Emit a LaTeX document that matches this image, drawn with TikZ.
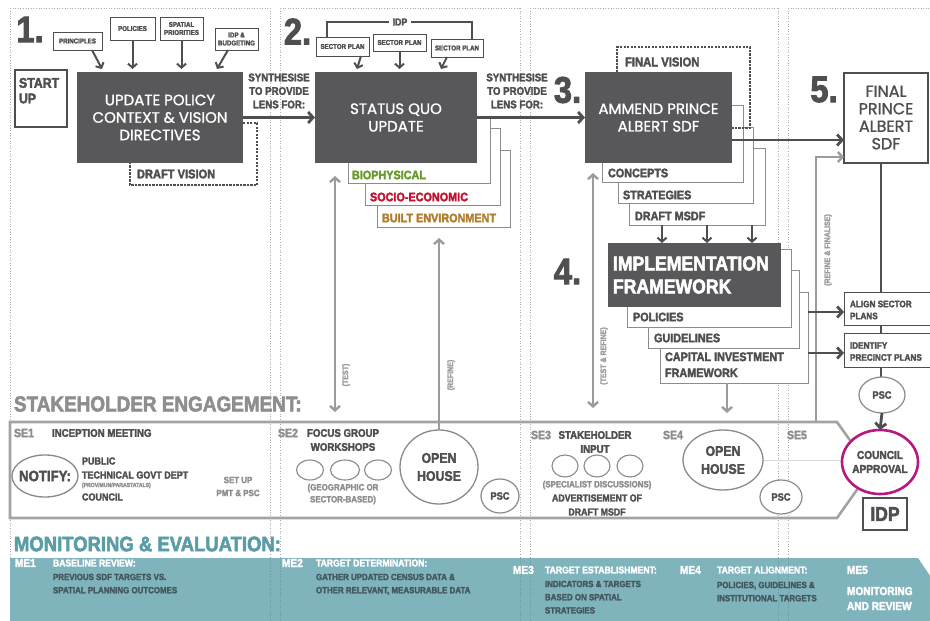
\documentclass[tikz,border=0pt]{standalone}
\usepackage{fontspec}
\setmainfont{Liberation Sans}
\newfontfamily\cf{Liberation Sans Bold}[FakeStretch=0.88, FakeBold=2.5]
\newfontfamily\fut{Poppins}[FakeBold=1.2]
\usetikzlibrary{arrows.meta,shapes.geometric}
\newcommand{\cbf}[2]{\cf\fontsize{#1}{#2}\selectfont}
\definecolor{dk}{HTML}{4F4F51}
\definecolor{boxc}{HTML}{58585A}
\definecolor{lg}{HTML}{9C9C9C}
\definecolor{segc}{HTML}{8E8E8E}
\definecolor{ellc}{HTML}{8A8A8A}
\definecolor{seb}{HTML}{A3A3A3}
\definecolor{teal1}{HTML}{80B4BD}
\definecolor{tealdk}{HTML}{6A9AA3}
\definecolor{tealtxt}{HTML}{5A9DA7}
\definecolor{metxt}{HTML}{44575D}
\definecolor{bio}{HTML}{6A9A2C}
\definecolor{soc}{HTML}{C41230}
\definecolor{blt}{HTML}{B07E2A}
\definecolor{mag}{HTML}{B8177F}
\begin{document}
\begin{tikzpicture}[x=1pt,y=-1pt,
  every node/.style={inner sep=0pt, outer sep=0pt},
  sep/.style={draw=black!32, line width=0.9pt, dash pattern=on 0.9pt off 1.7pt},
  num/.style={font={\cbf{37}{37}}, text=dk},
  sbox/.style={draw=dk, line width=1pt, fill=white, text=dk, font={\cbf{7}{8}}, align=center},
  dbox/.style={fill=boxc, text=white, font={\fut\fontsize{15}{17.5}\selectfont}, align=center},
  frm/.style={draw=black!45, line width=0.9pt, fill=white},
  arr/.style={draw=dk, line width=2.8pt, -{Straight Barb[length=5pt,width=11pt]}},
  sarr/.style={draw=dk, line width=2pt, -{Straight Barb[length=4pt,width=9pt]}},
  garr/.style={draw=lg, line width=2.4pt, -{Straight Barb[length=4.5pt,width=10pt]}},
  garrb/.style={draw=lg, line width=2.4pt, {Straight Barb[length=4.5pt,width=10pt]}-{Straight Barb[length=4.5pt,width=10pt]}},
  dotfr/.style={draw=dk, line width=2.6pt, dash pattern=on 2.2pt off 1.3pt},
  syn/.style={font={\cbf{11}{13.5}}, text=dk, align=center},
  lbl/.style={font={\cbf{12.3}{14}}, anchor=west},
  rot/.style={rotate=90, font={\cbf{8}{9}}, text=lg},
  seg/.style={font={\cbf{12}{14}}, text=segc, anchor=west},
  sed/.style={font={\cbf{11}{14}}, text=dk, align=center},
  oval/.style={ellipse, draw=ellc, line width=1.2pt, fill=white},
  mel/.style={font={\cbf{11.5}{12}}, text=white, anchor=west},
  meh/.style={font={\cbf{9.8}{10}}, text=white, anchor=west},
  meb/.style={font={\cbf{9}{13.2}}, text=metxt, anchor=north west, align=left}
]
\useasboundingbox (0,0) rectangle (930,621);
\fill[white] (0,0) rectangle (930,621);

% section separators
\foreach \x in {10,270,280,520,530,778,788} \draw[sep] (\x,8) -- (\x,558);
\foreach \a/\b in {10/270,280/520,530/778,788/930} \draw[sep] (\a,8) -- (\b,8);

% monitoring band
\fill[teal1] (10,558) -- (918,558) -- (945,598) -- (918,638) -- (10,638) -- cycle;
\foreach \x in {270,280,520,530,778,788} \draw[sep, draw=tealdk] (\x,558) -- (\x,621);

% ---------- section 1
\node[num] (n1) at (30,29.5) {1.};
\node[sbox, minimum width=49pt, minimum height=18pt] (princ) at (77.5,41) {PRINCIPLES};
\node[sbox, minimum width=45pt, minimum height=23pt] (pol) at (132.5,28.5) {POLICIES};
\node[sbox, minimum width=43pt, minimum height=23pt] (spat) at (181.5,28.5) {SPATIAL\\PRIORITIES};
\node[sbox, minimum width=43pt, minimum height=22pt] (idpb) at (236.5,39) {IDP \&\\BUDGETING};
\node[draw=dk, line width=1.2pt, minimum width=52pt, minimum height=57pt] (start) at (41,98.5) {};
\node[font={\cbf{14}{15.5}}, text=dk, align=left, anchor=north west] (starttxt) at (19,78) {START\\UP};
\draw[dotfr] (243,123) -- (257,123) -- (257,185) -- (130,185) -- (130,163);
\node[dbox, minimum width=166pt, minimum height=91pt] (upd) at (160,117.5) {UPDATE POLICY\\CONTEXT \& VISION\\DIRECTIVES};
\node[lbl, text=dk, font={\cbf{12.6}{14}}] (dv) at (137,174) {DRAFT VISION};
\draw[sarr] (princ.south -| 92,0) -- (102,69);
\draw[sarr] (pol.south) -- (pol.south |- 0,69);
\draw[sarr] (spat.south) -- (spat.south |- 0,69);
\draw[sarr] (idpb.south -| 228,0) -- (217,69);
\node[syn] (syn1) at (279,91) {SYNTHESISE\\TO PROVIDE\\LENS FOR:};

% ---------- section 2
\node[num] (n2) at (297.5,31.5) {2.};
\node[font={\cbf{10}{10}}, text=dk, inner xsep=4pt] (idpt) at (400,22) {IDP};
\draw[dk, line width=1.8pt] (idpt.west) -| (327,37);
\draw[dk, line width=1.8pt] (idpt.east) -| (472,39);
\node[sbox, minimum width=53pt, minimum height=19pt] (sp1) at (342.5,46.5) {SECTOR PLAN};
\node[sbox, minimum width=53pt, minimum height=17pt] (sp2) at (399.5,42.5) {SECTOR PLAN};
\node[sbox, minimum width=52pt, minimum height=18pt] (sp3) at (457,48) {SECTOR PLAN};
\draw[sarr] (sp1.south -| 361,0) -- (357,69);
\draw[sarr] (sp2.south) -- (sp2.south |- 0,69);
\draw[sarr] (sp3.south -| 447,0) -- (441,69);
\draw[frm] (377,150) rectangle (510,227);
\draw[frm] (365,128) rectangle (500,205);
\draw[frm] (348,116) rectangle (490,183);
\node[dbox, minimum width=162pt, minimum height=91pt] (sq) at (396,117.5) {STATUS QUO\\UPDATE};
\node[lbl, text=bio] (tbio) at (352,175) {BIOPHYSICAL};
\node[lbl, text=soc] (tsoc) at (370,197) {SOCIO-ECONOMIC};
\node[lbl, text=blt] (tblt) at (382,218) {BUILT ENVIRONMENT};
\node[syn] (syn2) at (517,91) {SYNTHESISE\\TO PROVIDE\\LENS FOR:};
\draw[arr] (upd.east) -- (sq.west);
\coordinate (t1) at (335,176);
\coordinate (t2) at (335,412);
\draw[garrb] (t1) -- (t2);
\node[rot] (ltest) at (346,375) {(TEST)};

% ---------- section 3
\node[num] (n3) at (567.5,90) {3.};
\draw[frm] (629,148) rectangle (765,225);
\draw[frm] (618,127) rectangle (753,203);
\draw[frm] (602,105) rectangle (743,182);
\draw[dotfr] (617,72) -- (617,47) -- (750,47) -- (750,128) -- (732,128);
\node[dbox, minimum width=147pt, minimum height=91pt] (am) at (658.5,117.5) {AMMEND PRINCE\\ALBERT SDF};
\node[lbl, text=dk, font={\cbf{12.8}{14}}] (fv) at (625,62) {FINAL VISION};
\node[lbl, text=dk] (tcon) at (608,173) {CONCEPTS};
\node[lbl, text=dk] (tstr) at (623,195) {STRATEGIES};
\node[lbl, text=dk] (tdm) at (635,216) {DRAFT MSDF};
\draw[arr] (sq.east) -- (am.west);

% ---------- section 4
\node[num] (n4) at (567.5,271.5) {4.};
\draw[frm] (660,292) rectangle (808,383);
\draw[frm] (648,270) rectangle (799,348);
\draw[frm] (627,249) rectangle (791,327);
\node[fill=boxc, text=white, minimum width=173pt, minimum height=64pt, text width=163pt, align=left, font={\cbf{20}{23}}] (impl) at (694.5,275) {IMPLEMENTATION\\FRAMEWORK};
\foreach \x in {662,707,752} \draw[sarr] (\x,225) -- (impl.north -| \x,0);
\node[lbl, text=dk] (tpol) at (633,317) {POLICIES};
\node[lbl, text=dk] (tgui) at (654,338) {GUIDELINES};
\node[font={\cbf{12.3}{16}}, text=dk, align=left, anchor=north west] (tcif) at (665,352.5) {CAPITAL INVESTMENT\\FRAMEWORK};
\coordinate (c1) at (727,383);
\coordinate (c2) at (727,413);
\draw[garr] (c1) -- (c2);
\coordinate (tr1) at (593,173);
\coordinate (tr2) at (593,408);
\draw[garrb] (tr1) -- (tr2);
\node[rot] (ltr) at (604,356) {(TEST \& REFINE)};

% ---------- section 5
\node[num] (n5) at (824,89.5) {5.};
\draw[dk, line width=2.8pt] (881,162) -- (881,380);
\node[draw=dk, line width=2pt, fill=white, minimum width=84pt, minimum height=90pt, text=dk, align=center, font={\fut\fontsize{16}{17.5}\selectfont}] (fin) at (886,117.5) {FINAL\\PRINCE\\ALBERT\\SDF};
\draw[arr] (am.east |- 0,140) -- (fin.west |- 0,140);
\draw[garr] (816,422) |- (fin.west |- 0,157);
\node[rot] (lrf) at (828,250) {(REFINE \& FINALISE)};
\node[sbox, minimum width=86pt, minimum height=33pt] (al) at (887,308.5) {};
\node[font={\cbf{9.3}{12}}, text=dk, align=left, anchor=west] (alt) at (850,310) {ALIGN SECTOR\\PLANS};
\node[sbox, minimum width=86pt, minimum height=34pt] (idn) at (887,350) {};
\node[font={\cbf{9.3}{12}}, text=dk, align=left, anchor=west] (idnt) at (850,351.5) {IDENTIFY\\PRECINCT PLANS};
\draw[arr] (808,312) -- (al.west |- 0,312);
\draw[arr] (808,353) -- (idn.west |- 0,353);
\node[oval, minimum width=46pt, minimum height=36pt] (psc3) at (882,395) {};
\node[font={\cbf{10.5}{12}}, text=dk] (psc3t) at (psc3) {PSC};

% ---------- stakeholder engagement
\node[font={\cbf{21.5}{22}}, text=segc, anchor=west] (sehead) at (14,404) {STAKEHOLDER ENGAGEMENT:};
\draw[draw=seb, line width=2.6pt] (10,422) -- (837,422) -- (871,470) -- (837,518) -- (10,518) -- cycle;
\draw[draw=black!15, line width=1pt] (762,460) -- (842,460);
\node[seg] (se1) at (14,433) {SE1};
\node[lbl, text=dk, font={\cbf{11}{12}}] (incep) at (52,433) {INCEPTION MEETING};
\node[oval, line width=1.3pt, minimum width=66pt, minimum height=42pt] (notify) at (45,476) {};
\node[font={\cbf{15}{16}}, text=dk] (notifyt) at (notify) {NOTIFY:};
\node[anchor=west, font={\cbf{10.2}{11}}, text=dk] (pub) at (82,461) {PUBLIC};
\node[anchor=west, font={\cbf{10.2}{11}}, text=dk] (tech) at (82,475) {TECHNICAL GOVT DEPT};
\node[anchor=west, font={\cbf{5.8}{6}}, text=segc] (prov) at (82,485.5) {(PROV/MUN/PARASTATALS)};
\node[anchor=west, font={\cbf{10.2}{11}}, text=dk] (coun) at (82,497) {COUNCIL};
\node[font={\cbf{9}{13}}, text=segc, align=center] (setup) at (238,486.5) {SET UP\\PMT \& PSC};
\node[seg] (se2) at (278,433) {SE2};
\node[sed] (fgw) at (343,440) {FOCUS GROUP\\WORKSHOPS};
\node[oval, line width=1.1pt, minimum width=27pt, minimum height=20pt] (e21) at (310,470) {};
\node[oval, line width=1.1pt, minimum width=29pt, minimum height=20pt] (e22) at (345,470) {};
\node[oval, line width=1.1pt, minimum width=27pt, minimum height=20pt] (e23) at (378,470) {};
\node[font={\cbf{9}{12}}, text=segc, align=center] (geo) at (343,494) {(GEOGRAPHIC OR\\SECTOR-BASED)};
\node[oval, line width=1.3pt, minimum width=78pt, minimum height=74pt] (oh1) at (439,467) {};
\node[font={\cbf{14}{18}}, text=dk, align=center] (oh1t) at (oh1) {OPEN\\HOUSE};
\draw[garr] (oh1.north) -- (oh1.north |- 0,238);
\node[rot] (lref) at (451,375) {(REFINE)};
\node[oval, minimum width=38pt, minimum height=34pt] (psc1) at (500,496) {};
\node[font={\cbf{10.5}{12}}, text=dk] (psc1t) at (psc1) {PSC};
\node[seg] (se3) at (531,435) {SE3};
\node[sed] (shi) at (595,442) {STAKEHOLDER\\INPUT};
\node[oval, line width=1.1pt, minimum width=26pt, minimum height=22pt] (e31) at (565,466) {};
\node[oval, line width=1.1pt, minimum width=26pt, minimum height=22pt] (e32) at (597,466) {};
\node[oval, line width=1.1pt, minimum width=26pt, minimum height=22pt] (e33) at (630,466) {};
\node[font={\cbf{9}{10}}, text=segc] (spec) at (597,485) {(SPECIALIST DISCUSSIONS)};
\node[font={\cbf{10}{14}}, text=dk, align=center] (adv) at (597,505) {ADVERTISEMENT OF\\DRAFT MSDF};
\node[seg] (se4) at (663,435) {SE4};
\node[oval, line width=1.3pt, minimum width=80pt, minimum height=60pt] (oh2) at (723,460) {};
\node[font={\cbf{14}{18}}, text=dk, align=center] (oh2t) at (oh2) {OPEN\\HOUSE};
\node[oval, minimum width=42pt, minimum height=34pt] (psc2) at (781,497) {};
\node[font={\cbf{10.5}{12}}, text=dk] (psc2t) at (psc2) {PSC};
\node[seg] (se5) at (787,435) {SE5};

% council approval
\node[ellipse, draw=mag, line width=2.6pt, fill=white, minimum width=76pt, minimum height=64pt] (ca) at (880,462) {};
\node[font={\cbf{11.5}{14}}, text=dk, align=center] (cat) at (ca) {COUNCIL\\APPROVAL};
\draw[arr] (psc3.south) -- (ca.north);
\node[draw=dk, line width=1.8pt, minimum width=44pt, minimum height=32pt, font={\cbf{20}{20}}, text=dk] (idpbox) at (885,514) {IDP};

% ---------- monitoring & evaluation
\node[font={\cbf{21}{22}}, text=tealtxt, anchor=west] (mehead) at (14,544) {MONITORING \& EVALUATION:};
\node[mel] (me1) at (15,563) {ME1};
\node[meh] (me1h) at (53,563) {BASELINE REVIEW:};
\node[meb] (me1b) at (53,573.8) {PREVIOUS SDF TARGETS VS.\\SPATIAL PLANNING OUTCOMES};
\node[mel] (me2) at (282,563) {ME2};
\node[meh] (me2h) at (316,563) {TARGET DETERMINATION:};
\node[meb] (me2b) at (316,573.8) {GATHER UPDATED CENSUS DATA \&\\OTHER RELEVANT, MEASURABLE DATA};
\node[mel] (me3) at (513,570) {ME3};
\node[meh] (me3h) at (545,570) {TARGET ESTABLISHMENT:};
\node[meb] (me3b) at (545,580.8) {INDICATORS \& TARGETS\\BASED ON SPATIAL\\STRATEGIES};
\node[mel] (me4) at (680,570) {ME4};
\node[meh] (me4h) at (717,570) {TARGET ALIGNMENT:};
\node[meb] (me4b) at (717,581.8) {POLICIES, GUIDELINES \&\\INSTITUTIONAL TARGETS};
\node[mel] (me5) at (847,570) {ME5};
\node[font={\cbf{11.5}{15}}, text=white, anchor=north west, align=left] (me5b) at (847,587) {MONITORING\\AND REVIEW};
\end{tikzpicture}
\end{document}
